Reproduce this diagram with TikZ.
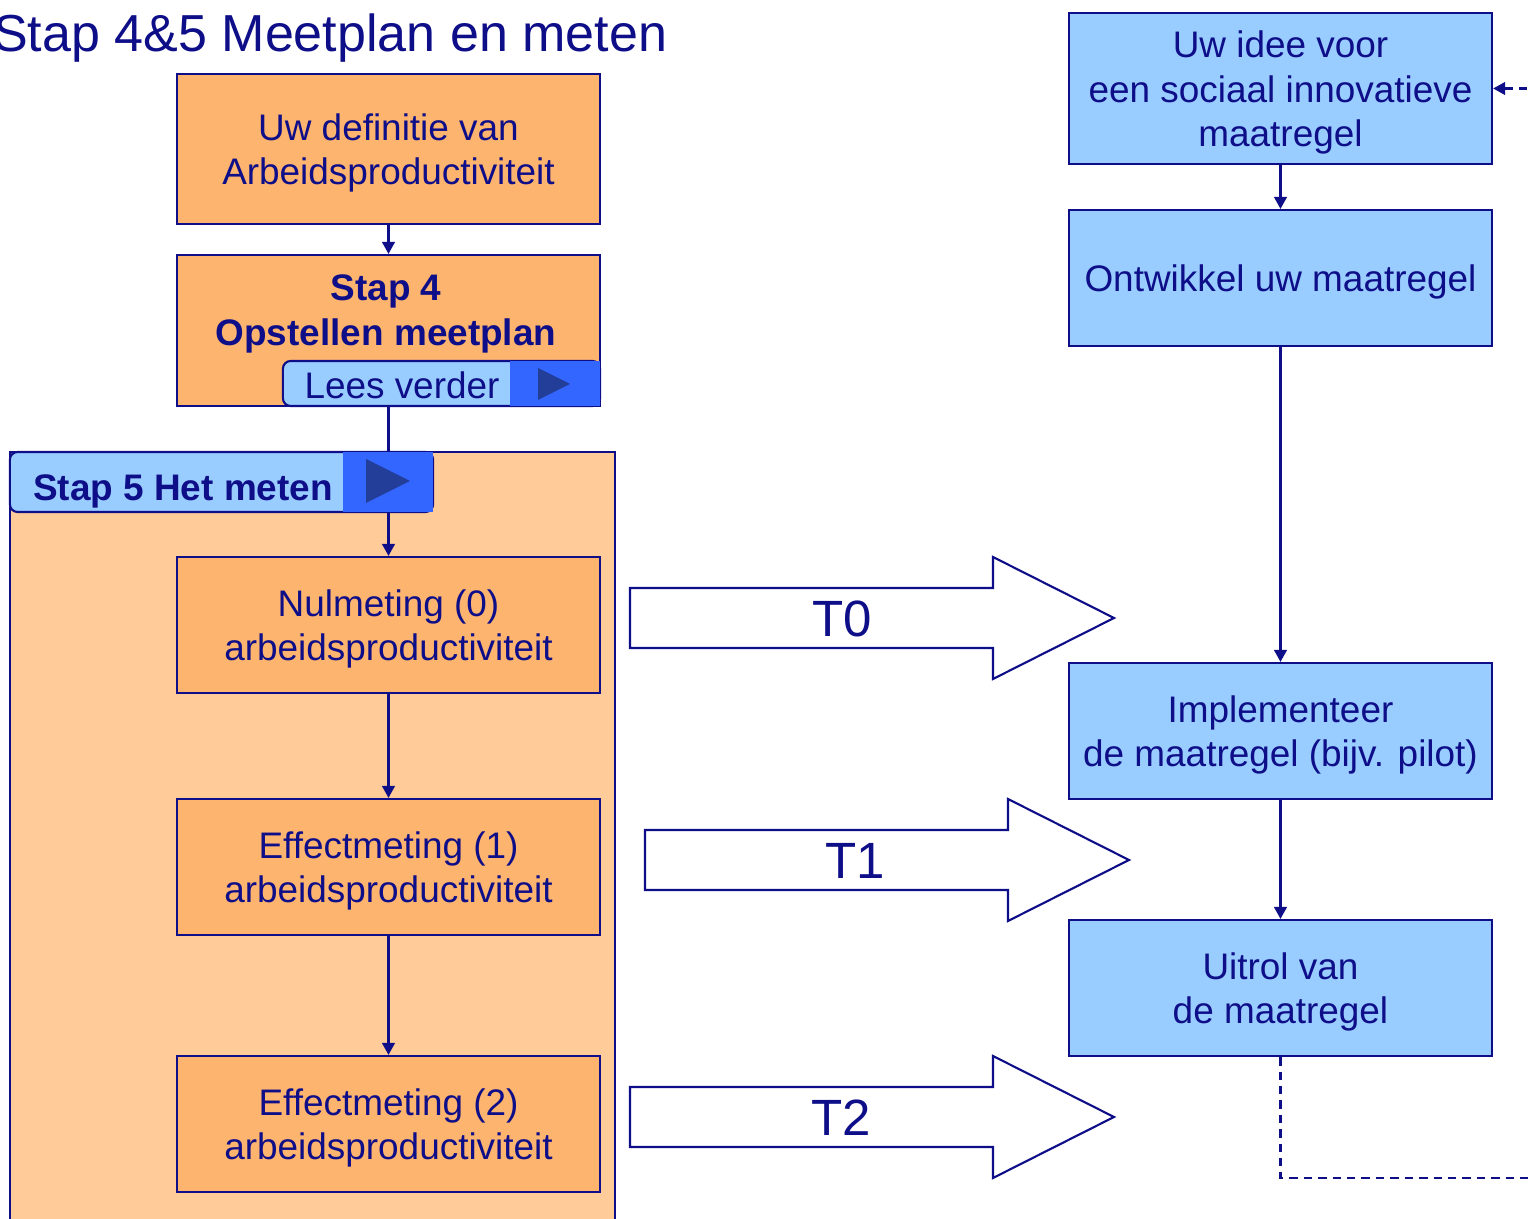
\documentclass[tikz,border=0pt]{standalone}
\usepackage{fontspec}
\setmainfont{Liberation Sans}
\usetikzlibrary{arrows.meta}
\definecolor{navy}{RGB}{14,14,137}
\definecolor{orangefill}{HTML}{FDB46E}
\definecolor{bgorange}{HTML}{FFCC99}
\definecolor{lightblue}{HTML}{99CCFF}
\definecolor{btnblue}{HTML}{3366FF}
\definecolor{tridark}{HTML}{233E99}
\tikzset{
  boxfont/.style={font=\fontsize{10.5}{12.6}\selectfont},
  boxtext/.style={text=navy, align=center, inner sep=0pt, boxfont, yshift=-0.04cm},
  orangebox/.style={draw=navy, line width=0.6pt, fill=orangefill, minimum width=4.23cm, minimum height=1.36cm, inner sep=0pt},
  bluebox/.style={draw=navy, line width=0.6pt, fill=lightblue, minimum width=4.23cm, minimum height=1.36cm, inner sep=0pt},
  conn/.style={draw=navy, line width=0.6pt, -{Triangle[length=3.4pt,width=3.6pt]}},
  dashconn/.style={draw=navy, line width=0.6pt, dash pattern=on 2.4pt off 1.7pt, -{Triangle[length=3.4pt,width=3.6pt]}},
  btnbase/.style={draw=navy, line width=0.6pt, fill=lightblue, rounded corners=2.2pt, inner sep=0pt},
  btngo/.style={fill=btnblue, inner sep=0pt},
  bigarrow/.style={draw=navy, line width=0.6pt, fill=white},
  biglabel/.style={text=navy, font=\fontsize{14.5}{17}\selectfont, inner sep=0pt},
  plaintext/.style={text=navy, inner sep=0pt, boxfont}
}
\begin{document}
\begin{tikzpicture}[x=0.01cm,y=-0.01cm]
\clip (0,0) rectangle (1529,1219);
\fill[white] (0,0) rectangle (1529,1219);

% title
\node[text=navy, font=\fontsize{14.8}{17}\selectfont, inner sep=0pt, anchor=base east] (title) at (668,52) {Stap 4\&5 Meetplan en meten};

% step 5 background
\draw[navy, line width=0.6pt, fill=bgorange] (10,452) rectangle (615,1240);

% left column
\node[orangebox, minimum height=1.50cm, label={[boxtext]center:{Uw definitie van\\Arbeidsproductiviteit}}] (def) at (388.5,149) {};
\node[orangebox, minimum height=1.51cm] (s4) at (388.5,330.5) {};
\node[plaintext, align=center, font=\fontsize{10.5}{12.6}\selectfont\bfseries] (s4t) at (386,314) {Stap 4\\Opstellen meetplan};
\node[orangebox, label={[boxtext]center:{Nulmeting (0)\\arbeidsproductiviteit}}] (nul) at (388.5,625) {};
\node[orangebox, label={[boxtext]center:{Effectmeting (1)\\arbeidsproductiviteit}}] (eff1) at (388.5,867) {};
\node[orangebox, label={[boxtext]center:{Effectmeting (2)\\arbeidsproductiviteit}}] (eff2) at (388.5,1124) {};

\draw[conn] (def.south) -- (s4.north);
\draw[conn] (s4.south) -- (nul.north);
\draw[conn] (nul.south) -- (eff1.north);
\draw[conn] (eff1.south) -- (eff2.north);

% Lees verder button
\node[btnbase, minimum width=3.17cm, minimum height=0.45cm] (lees) at (441.5,383.5) {};
\node[btngo, minimum width=0.89cm, minimum height=0.44cm] (leesgo) at (555,383.5) {};
\fill[tridark] (538,368) -- (570,384) -- (538,400) -- cycle;
\node[plaintext] (leestxt) at (402,385) {Lees verder};

% Stap 5 button
\node[btnbase, minimum width=4.23cm, minimum height=0.60cm] (s5) at (221.5,482) {};
\node[btngo, minimum width=0.89cm, minimum height=0.59cm] (s5go) at (388,482) {};
\fill[tridark] (366,459) -- (410,481) -- (366,503) -- cycle;
\node[plaintext, font=\fontsize{10.5}{12.6}\selectfont\bfseries] (s5txt) at (183,491) {Stap 5 Het meten};

% right column
\node[bluebox, minimum height=1.51cm, label={[boxtext]center:{Uw idee voor\\een sociaal innovatieve\\maatregel}}] (idee) at (1280.5,88.5) {};
\node[bluebox, label={[boxtext]center:{Ontwikkel uw maatregel}}] (ontw) at (1280.5,278) {};
\node[bluebox, label={[boxtext]center:{Implementeer\\de maatregel (bijv. pilot)}}] (impl) at (1280.5,731) {};
\node[bluebox, label={[boxtext]center:{Uitrol van\\de maatregel}}] (uit) at (1280.5,988) {};

\draw[conn] (idee.south) -- (ontw.north);
\draw[conn] (ontw.south) -- (impl.north);
\draw[conn] (impl.south) -- (uit.north);

\coordinate (loopa) at (1280.5,1178);
\coordinate (loopb) at (1570,1178);
\coordinate (loopc) at (1570,88.5);
\draw[dashconn] (uit.south) -- (loopa) -- (loopb) -- (loopc) -- (idee.east);

% big arrows
\draw[bigarrow] (630,588) -- (993,588) -- (993,557) -- (1114,618) -- (993,679) -- (993,648) -- (630,648) -- cycle;
\node[biglabel] (t0) at (842,619) {T0};
\draw[bigarrow] (645,830) -- (1008,830) -- (1008,799) -- (1129,860) -- (1008,921) -- (1008,890) -- (645,890) -- cycle;
\node[biglabel] (t1) at (855,861) {T1};
\draw[bigarrow] (630,1087) -- (993,1087) -- (993,1056) -- (1114,1117) -- (993,1178) -- (993,1147) -- (630,1147) -- cycle;
\node[biglabel] (t2) at (841,1118) {T2};
\end{tikzpicture}
\end{document}
